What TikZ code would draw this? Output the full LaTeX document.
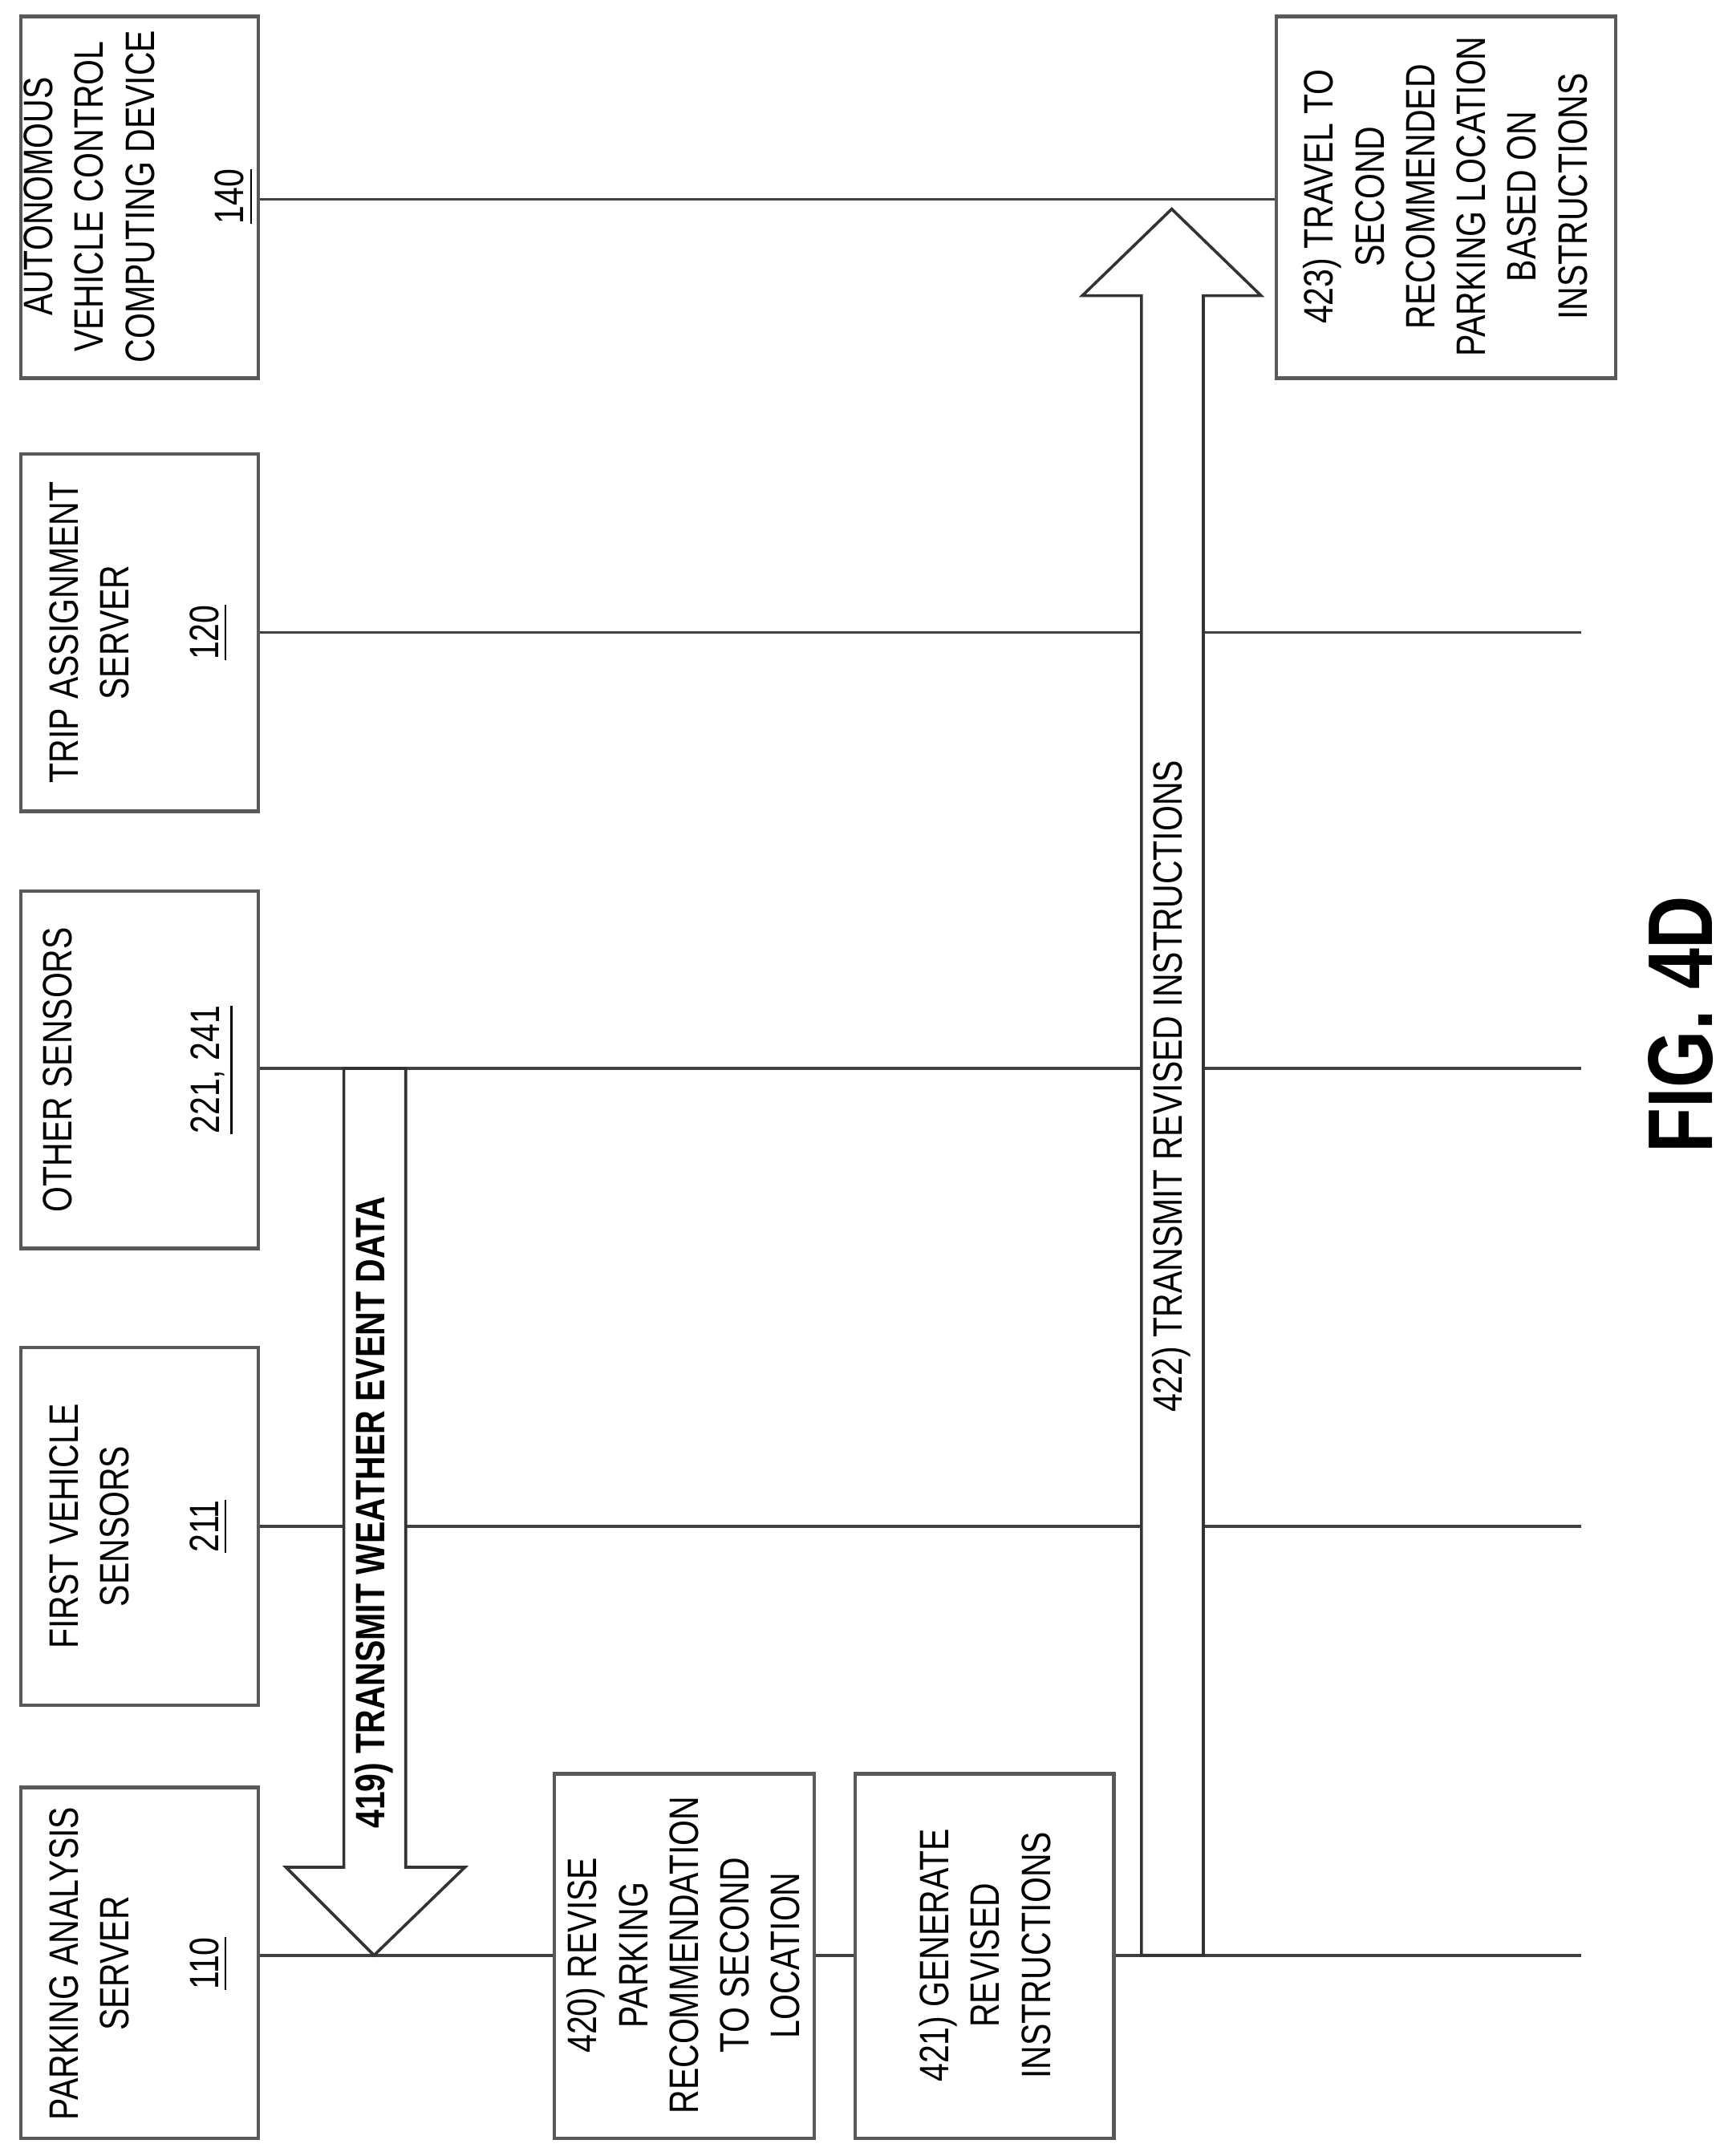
\documentclass[tikz,border=0pt]{standalone}
\usepackage{fontspec}
\setmainfont{Liberation Sans}[FakeStretch=0.8]
\begin{document}
\begin{tikzpicture}[x=0.01cm,y=-0.01cm,
  box/.style={draw=black!65,line width=0.7pt,fill=white,inner sep=0pt},
  lbl/.style={rotate=90,align=center,font=\fontsize{8.5}{10.5}\selectfont},
  life/.style={draw=black!75,line width=0.6pt},
  blk/.style={draw=black!80,line width=0.6pt,fill=white}]
\useasboundingbox (0,0) rectangle (1256,1568);
% lifelines
\draw[life] (188,1422) -- (1150,1422);
\draw[life] (188,1110) -- (1150,1110);
\draw[life] (188,777) -- (1150,777);
\draw[life] (188,460) -- (1150,460);
\draw[life] (188,145) -- (928,145);
% header boxes
\draw[box] (15,1300) rectangle (188,1555); \node[lbl] (h1) at (101,1428) {PARKING ANALYSIS\\SERVER\\[8pt]\underline{110}};
\draw[box] (15,980) rectangle (188,1240); \node[lbl] (h2) at (101,1110) {FIRST VEHICLE\\SENSORS\\[8pt]\underline{211}};
\draw[box] (15,648) rectangle (188,908); \node[lbl] (h3) at (101,778) {OTHER SENSORS\\[20pt]\underline{221, 241}};
\draw[box] (15,330) rectangle (188,590); \node[lbl] (h4) at (101,460) {TRIP ASSIGNMENT\\SERVER\\[8pt]\underline{120}};
\draw[box] (15,12) rectangle (188,275); \node[lbl] (h5) at (101,143) {AUTONOMOUS\\VEHICLE CONTROL\\COMPUTING DEVICE\\[8pt]\underline{140}};
% step boxes
\draw[box] (403,1290) rectangle (592,1555); \node[lbl] (s420) at (497,1422) {420) REVISE\\PARKING\\RECOMMENDATION\\TO SECOND\\LOCATION};
\draw[box] (622,1290) rectangle (810,1555); \node[lbl] (s421) at (716,1422) {421) GENERATE\\REVISED\\INSTRUCTIONS};
\draw[box] (928,12) rectangle (1175,275); \node[lbl] (s423) at (1051,143) {423) TRAVEL TO\\SECOND\\RECOMMENDED\\PARKING LOCATION\\BASED ON\\INSTRUCTIONS};
% arrow 419
\draw[blk] (250,777) -- (295,777) -- (295,1358) -- (338,1358) -- (272,1422) -- (208,1358) -- (250,1358) -- cycle;
\node[lbl,font=\bfseries\fontsize{8.5}{10}\selectfont] (a419) at (272,1100) {419) TRANSMIT WEATHER EVENT DATA};
% arrow 422
\draw[blk] (830,1422) -- (875,1422) -- (875,215) -- (917,215) -- (852,152) -- (787,215) -- (830,215) -- cycle;
\node[lbl] (a422) at (852,790) {422) TRANSMIT REVISED INSTRUCTIONS};
% figure label
\node[rotate=90,font=\bfseries\fontsize{19}{22}\selectfont] (fig) at (1222,745) {FIG. 4D};
\end{tikzpicture}
\end{document}
